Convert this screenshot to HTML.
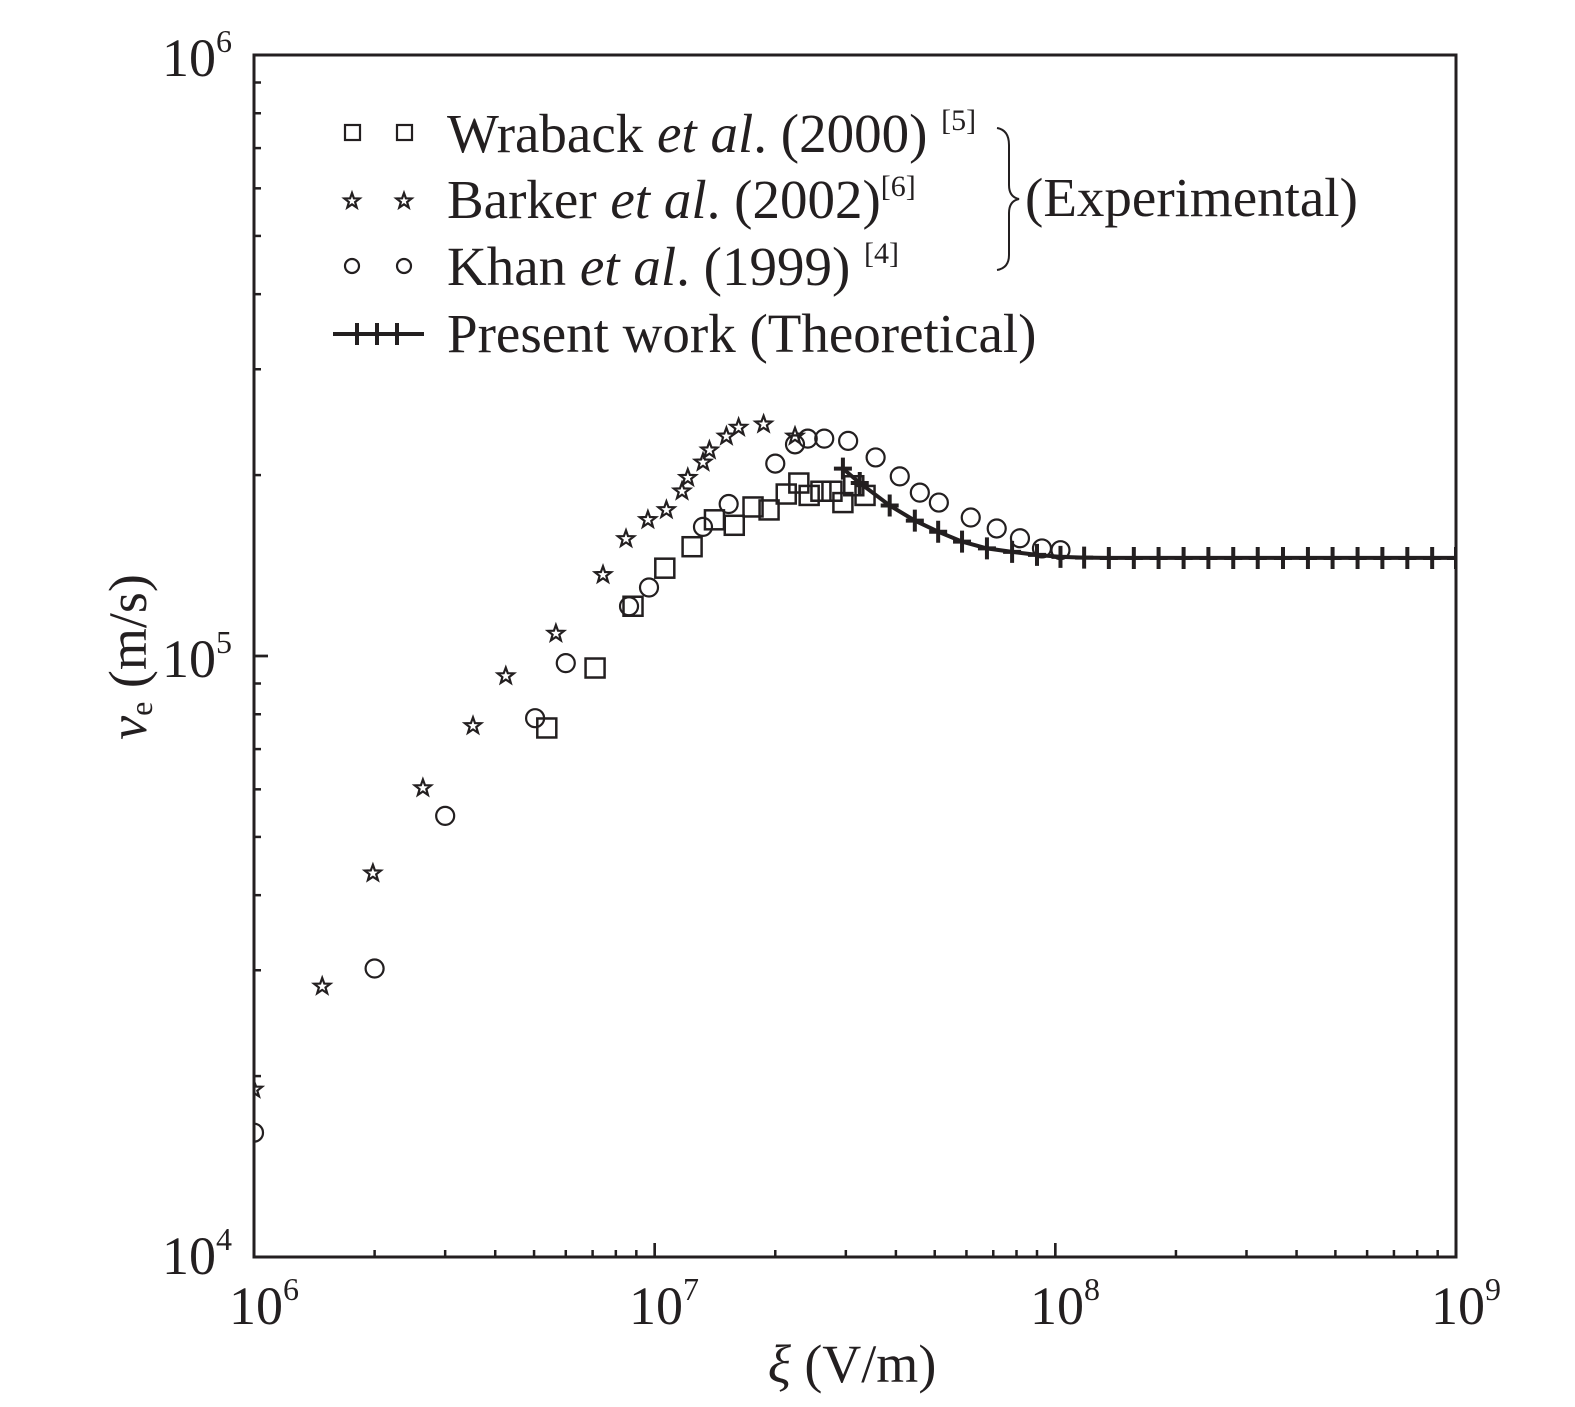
<!DOCTYPE html>
<html><head><meta charset="utf-8"><style>
html,body{margin:0;padding:0;background:#fff;}
svg{display:block;font-family:"Liberation Serif",serif;}
</style></head><body>
<svg id="chart" width="1575" height="1407" viewBox="0 0 1575 1407" xmlns="http://www.w3.org/2000/svg">
<defs><clipPath id="pc"><rect x="254" y="55" width="1202" height="1202"/></clipPath></defs>
<g id="marks" clip-path="url(#pc)"></g>
<rect x="254" y="55" width="1202" height="1202" fill="none" stroke="#231f20" stroke-width="3"/>
<g id="ticks"></g>
<g id="legend" font-size="55" fill="#231f20">
  <rect x="345" y="125" width="15" height="15" fill="none" stroke="#231f20" stroke-width="2.2"/>
  <rect x="397" y="125" width="15" height="15" fill="none" stroke="#231f20" stroke-width="2.2"/>
  <text x="447" y="152">Wraback <tspan font-style="italic">et al</tspan>. (2000) <tspan font-size="30" dy="-22">[5]</tspan></text>
  <text x="447" y="218">Barker <tspan font-style="italic">et al</tspan>. (2002)<tspan font-size="30" dy="-22">[6]</tspan></text>
  <circle cx="352" cy="266" r="7" fill="none" stroke="#231f20" stroke-width="2.2"/>
  <circle cx="404" cy="266" r="7" fill="none" stroke="#231f20" stroke-width="2.2"/>
  <text x="447" y="285">Khan <tspan font-style="italic">et al</tspan>. (1999) <tspan font-size="30" dy="-22">[4]</tspan></text>
  <line x1="333" y1="334" x2="424" y2="334" stroke="#231f20" stroke-width="4"/>
  <path d="M357 323V345M377 323V345M397 323V345" stroke="#231f20" stroke-width="4"/>
  <text x="447" y="352">Present work (Theoretical)</text>
  <path d="M997 128 Q1009 130 1009 145 L1009 185 Q1009 197 1019 199 Q1009 201 1009 213 L1009 255 Q1009 268 997 270" fill="none" stroke="#231f20" stroke-width="2"/>
  <text x="1025" y="216">(Experimental)</text>
</g>
<g font-size="54" fill="#231f20" text-anchor="end">
  <text x="232" y="76">10<tspan font-size="32" dy="-24">6</tspan></text>
  <text x="232" y="677">10<tspan font-size="32" dy="-24">5</tspan></text>
  <text x="232" y="1274">10<tspan font-size="32" dy="-24">4</tspan></text>
</g>
<g font-size="54" fill="#231f20" text-anchor="middle">
  <text x="264" y="1324">10<tspan font-size="32" dy="-24">6</tspan></text>
  <text x="664" y="1324">10<tspan font-size="32" dy="-24">7</tspan></text>
  <text x="1065" y="1324">10<tspan font-size="32" dy="-24">8</tspan></text>
  <text x="1466" y="1324">10<tspan font-size="32" dy="-24">9</tspan></text>
</g>
<text x="852" y="1382" font-size="54" text-anchor="middle" fill="#231f20"><tspan font-style="italic">ξ</tspan> (V/m)</text>
<text transform="translate(146,657) rotate(-90)" font-size="54" text-anchor="middle" fill="#231f20"><tspan font-style="italic">v</tspan><tspan font-size="32" dy="6">e</tspan><tspan dy="-6"> (m/s)</tspan></text>
</svg>
<script>
const starX=[1e6,1.48e6,1.98e6,2.64e6,3.52e6,4.25e6,5.67e6,7.43e6,8.48e6,9.62e6,1.07e7,1.17e7,1.21e7,1.32e7,1.37e7,1.51e7,1.62e7,1.87e7,2.24e7];
const starY=[1.9e4,2.82e4,4.35e4,6.03e4,7.65e4,9.26e4,1.09e5,1.365e5,1.566e5,1.685e5,1.75e5,1.88e5,1.98e5,2.10e5,2.20e5,2.32e5,2.40e5,2.43e5,2.32e5];
const circX=[1e6,2.0e6,3.0e6,5.03e6,6.0e6,8.63e6,9.68e6,1.32e7,1.53e7,2.0e7,2.24e7,2.41e7,2.65e7,3.04e7,3.56e7,4.09e7,4.59e7,5.12e7,6.15e7,7.14e7,8.16e7,9.26e7,1.03e8];
const circY=[1.61e4,3.02e4,5.42e4,7.88e4,9.73e4,1.21e5,1.30e5,1.64e5,1.79e5,2.09e5,2.25e5,2.30e5,2.30e5,2.28e5,2.14e5,1.99e5,1.87e5,1.80e5,1.70e5,1.63e5,1.57e5,1.51e5,1.50e5];
const sqX=[5.38e6,7.10e6,8.83e6,1.06e7,1.24e7,1.41e7,1.58e7,1.76e7,1.93e7,2.13e7,2.29e7,2.43e7,2.60e7,2.77e7,2.95e7,3.14e7,3.35e7];
const sqY=[7.59e4,9.55e4,1.21e5,1.40e5,1.52e5,1.685e5,1.65e5,1.77e5,1.75e5,1.86e5,1.94e5,1.85e5,1.88e5,1.88e5,1.80e5,1.92e5,1.85e5];
const thX=[2.95e7,3.25e7,3.86e7,4.46e7,5.10e7,5.85e7,6.75e7,7.80e7,9.0e7,1.03e8,1.18e8,1.36e8,1.57e8,1.81e8,2.09e8,2.41e8,2.78e8,3.2e8,3.7e8,4.27e8,4.92e8,5.68e8,6.55e8,7.56e8,8.72e8,1e9];
const thY=[2.05e5,1.94e5,1.78e5,1.68e5,1.61e5,1.55e5,1.51e5,1.49e5,1.473e5,1.462e5,1.458e5,1.456e5,1.456e5,1.456e5,1.456e5,1.456e5,1.456e5,1.456e5,1.456e5,1.456e5,1.456e5,1.456e5,1.456e5,1.456e5,1.456e5,1.456e5];

const NS='http://www.w3.org/2000/svg';
const X0=254,X1=1456,Y0=1257,Y1=55;
function sx(v){return X0+(Math.log10(v)-6)/3*(X1-X0);}
function sy(v){return Y0-(Math.log10(v)-4)/2*(Y0-Y1);}
const marks=document.getElementById('marks');
const ticks=document.getElementById('ticks');
const legend=document.getElementById('legend');
function mk(tag,attrs,parent){const e=document.createElementNS(NS,tag);for(const k in attrs)e.setAttribute(k,attrs[k]);parent.appendChild(e);return e;}
const C='#231f20';
function starPts(x,y,R,r){let p='';for(let k=0;k<10;k++){const a=-Math.PI/2+k*Math.PI/5;const rr=k%2?r:R;p+=(x+rr*Math.cos(a)).toFixed(1)+','+(y+rr*Math.sin(a)).toFixed(1)+' ';}return p;}

for(let d=6;d<9;d++){for(let m=1;m<=10;m++){const v=m*Math.pow(10,d);const x=sx(v);if(x>X1+0.5)continue;const L=(m===1||m===10)?14:7;
const t=mk('line',{x1:x,x2:x,y1:Y0,y2:Y0-L,stroke:C,'stroke-width':2.5},ticks);

}}
for(let d=4;d<6;d++){for(let m=1;m<=10;m++){const v=m*Math.pow(10,d);const y=sy(v);const L=(m===1||m===10)?14:7;
const t=mk('line',{x1:X0,x2:X0+L,y1:y,y2:y,stroke:C,'stroke-width':2.5},ticks);

}}

[352,404].forEach(x=>{
const s=mk('polygon',{points:starPts(x,201,8,3.3),fill:'none',stroke:C,'stroke-width':2.2},legend);

});

let d='';thX.forEach((v,i)=>{d+=(i?'L':'M')+sx(v).toFixed(1)+' '+sy(thY[i]).toFixed(1);});
const ln=mk('path',{d:d,fill:'none',stroke:C,'stroke-width':4},marks);


thX.forEach((v,i)=>{const x=sx(v),y=sy(thY[i]);
const p=mk('path',{d:`M${x} ${y-11}V${y+11}M${x-9} ${y}H${x+9}`,stroke:C,'stroke-width':4},marks);

});

sqX.forEach((v,i)=>{const x=sx(v),y=sy(sqY[i]);
const r=mk('rect',{x:x-9.5,y:y-9.5,width:19,height:19,fill:'none',stroke:C,'stroke-width':2.5},marks);

});

circX.forEach((v,i)=>{const x=sx(v),y=sy(circY[i]);
const c=mk('circle',{cx:x,cy:y,r:9,fill:'none',stroke:C,'stroke-width':2.2},marks);

});

starX.forEach((v,i)=>{const x=sx(v),y=sy(starY[i]);
const s=mk('polygon',{points:starPts(x,y,8.5,3.5),fill:'none',stroke:C,'stroke-width':2.2},marks);

});
</script>
</body></html>
